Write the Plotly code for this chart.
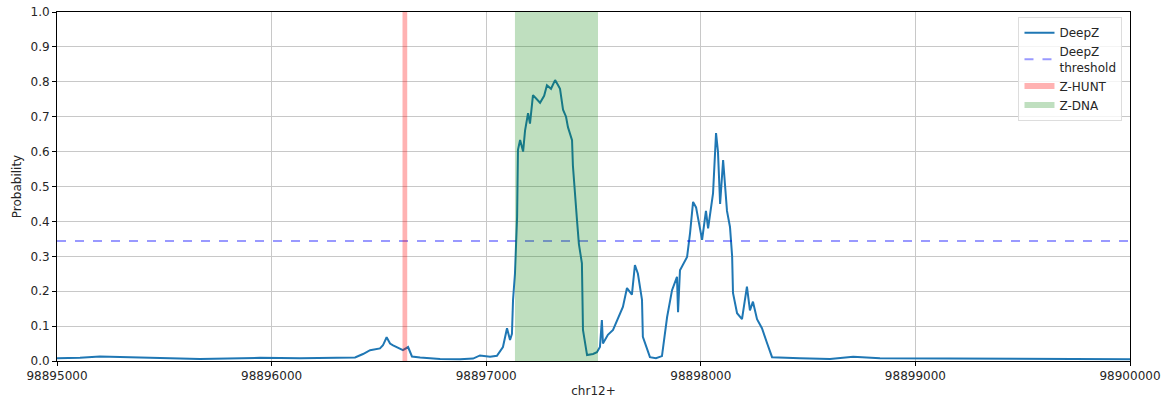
import plotly.graph_objects as go

# DeepZ probability track along chr12+ (positions in bp)
positions = [
    98895000, 98895107, 98895200, 98895247, 98895340, 98895433, 98895527, 98895666,
    98895806, 98895946, 98896132, 98896272, 98896389, 98896426, 98896459, 98896505,
    98896519, 98896536, 98896552, 98896566, 98896589, 98896612, 98896636, 98896654,
    98896692, 98896785, 98896878, 98896939, 98896971, 98897018, 98897050, 98897078,
    98897097, 98897111, 98897120, 98897125, 98897134, 98897144, 98897148, 98897158,
    98897172, 98897181, 98897195, 98897204, 98897218, 98897237, 98897251, 98897270,
    98897283, 98897302, 98897321, 98897335, 98897344, 98897358, 98897372, 98897381,
    98897400, 98897404, 98897414, 98897423, 98897432, 98897446, 98897451, 98897470,
    98897498, 98897516, 98897530, 98897539, 98897544, 98897567, 98897591, 98897614,
    98897637, 98897656, 98897679, 98897693, 98897707, 98897726, 98897730, 98897763,
    98897791, 98897819, 98897843, 98897866, 98897889, 98897894, 98897903, 98897936,
    98897950, 98897964, 98897978, 98897987, 98898006, 98898024, 98898034, 98898057,
    98898071, 98898080, 98898090, 98898104, 98898122, 98898136, 98898146, 98898150,
    98898169, 98898192, 98898215, 98898229, 98898243, 98898262, 98898285, 98898309,
    98898332, 98898462, 98898602, 98898710, 98898835, 98899161, 98899394, 98899627,
    98900000,
]
deepz = [
    0.008, 0.009, 0.013, 0.012, 0.012, 0.010, 0.008, 0.006,
    0.008, 0.009, 0.008, 0.009, 0.010, 0.020, 0.031, 0.036,
    0.045, 0.068, 0.050, 0.045, 0.038, 0.031, 0.040, 0.013,
    0.010, 0.006, 0.005, 0.007, 0.016, 0.012, 0.015, 0.040,
    0.094, 0.060, 0.078, 0.175, 0.250, 0.413, 0.605, 0.633,
    0.600, 0.660, 0.710, 0.680, 0.762, 0.750, 0.740, 0.760,
    0.790, 0.780, 0.805, 0.790, 0.780, 0.720, 0.700, 0.670,
    0.633, 0.560, 0.490, 0.404, 0.335, 0.280, 0.089, 0.017,
    0.020, 0.025, 0.040, 0.117, 0.050, 0.075, 0.089, 0.120,
    0.155, 0.209, 0.190, 0.275, 0.250, 0.175, 0.069, 0.011,
    0.008, 0.014, 0.126, 0.203, 0.241, 0.140, 0.260, 0.298,
    0.367, 0.456, 0.440, 0.410, 0.347, 0.430, 0.380, 0.480,
    0.653, 0.600, 0.450, 0.576, 0.430, 0.384, 0.300, 0.195,
    0.137, 0.120, 0.213, 0.145, 0.170, 0.120, 0.094, 0.051,
    0.011, 0.008, 0.006, 0.012, 0.008, 0.007, 0.007, 0.006,
    0.005,
]

threshold = 0.344
zhunt_region = [98896610, 98896632]
zdna_region = [98897134, 98897521]
x_range = [98895000, 98900000]
x_ticks = [98895000, 98896000, 98897000, 98898000, 98899000, 98900000]
y_ticks = [0.0, 0.1, 0.2, 0.3, 0.4, 0.5, 0.6, 0.7, 0.8, 0.9, 1.0]

fig = go.Figure()

fig.add_trace(go.Scatter(
    x=positions, y=deepz, mode="lines", name="DeepZ",
    line=dict(color="#1f77b4", width=2),
))
fig.add_trace(go.Scatter(
    x=x_range, y=[threshold, threshold], mode="lines", name="DeepZ<br>threshold",
    line=dict(color="rgba(0,0,255,0.4)", width=2, dash="dash"),
))
fig.add_trace(go.Scatter(
    x=[zhunt_region[0], zhunt_region[1], zhunt_region[1], zhunt_region[0], zhunt_region[0]],
    y=[0, 0, 1, 1, 0], mode="none", fill="toself", name="Z-HUNT",
    fillcolor="rgba(255,0,0,0.3)",
))
fig.add_trace(go.Scatter(
    x=[zdna_region[0], zdna_region[1], zdna_region[1], zdna_region[0], zdna_region[0]],
    y=[0, 0, 1, 1, 0], mode="none", fill="toself", name="Z-DNA",
    fillcolor="rgba(0,128,0,0.25)",
))

axis_common = dict(
    showgrid=True, gridcolor="#c8c8c8", gridwidth=1,
    showline=True, linecolor="black", linewidth=1, mirror=True,
    ticks="outside", ticklen=4, tickcolor="black",
    zeroline=False, automargin=False, tickfont=dict(size=12, color="#262626"),
)

fig.update_layout(
    width=1167, height=407,
    margin=dict(l=57, r=37, t=12, b=46, autoexpand=False),
    paper_bgcolor="white", plot_bgcolor="white",
    font=dict(family="DejaVu Sans", size=12, color="#262626"),
    showlegend=True,
    legend=dict(
        x=0.993, y=0.985, xanchor="right", yanchor="top",
        bgcolor="rgba(255,255,255,0.8)", bordercolor="#dddddd", borderwidth=1,
        font=dict(size=12), tracegroupgap=0,
    ),
    xaxis=dict(
        range=x_range, tickvals=x_ticks, tickformat="d",
        title=dict(text="chr12+", font=dict(size=12), standoff=4),
        **axis_common,
    ),
    yaxis=dict(
        range=[0, 1], tickvals=y_ticks, tickformat=".1f",
        title=dict(text="Probability", font=dict(size=12), standoff=6),
        **axis_common,
    ),
)

# drop the default page margin so the figure sits at the top-left corner
fig.write_html(
    "out.html",
    config={"displayModeBar": False},
    post_script="document.body.style.margin='0';",
)
